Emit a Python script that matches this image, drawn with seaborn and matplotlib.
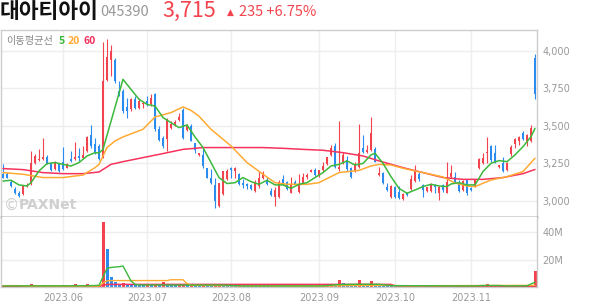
import numpy as np
import matplotlib
matplotlib.use("Agg")
import matplotlib.pyplot as plt
import seaborn as sns

# ---------------- data ----------------
opens = [3178,3182,3129,3082,3051,3044,3100,3110,3250,3273,
         3278,3293,3249,3211,3249,3260,3222,3282,3278,3300,
         3289,3333,3438,3378,3367,3290,3805,3940,3938,3733,
         3733,3627,3611,3678,3622,3644,3667,3644,3711,3478,
         3422,3411,3489,3511,3540,3604,3471,3500,3389,3307,
         3307,3218,3151,3107,2967,3049,3144,3218,3200,3182,
         3122,3116,3107,3067,3100,3156,3138,3067,3029,3029,
         3147,3129,3056,3129,3062,3122,3158,3196,3207,3167,
         3207,3247,3307,3367,3210,3251,3273,3222,3200,3224,
         3351,3329,3340,3344,3173,3184,3091,3024,3091,3062,
         3011,3056,3078,3136,3180,3107,3069,3069,3107,3051,
         3107,3056,3158,3162,3129,3073,3140,3084,3096,3218,
         3251,3318,3367,3318,3224,3256,3207,3311,3378,3400,
         3456,3400,3400,3951]
highs = [3249,3190,3138,3093,3067,3104,3118,3335,3311,3344,
         3422,3307,3262,3267,3256,3360,3256,3333,3393,3356,
         3367,3433,3504,3422,3378,4060,4080,4040,3955,3800,
         3744,3689,3689,3700,3689,3667,3700,3711,3722,3500,
         3433,3550,3530,3540,3589,3622,3511,3511,3389,3320,
         3356,3222,3211,3156,3122,3200,3211,3229,3229,3189,
         3144,3122,3111,3138,3200,3200,3162,3084,3096,3140,
         3173,3133,3162,3138,3180,3184,3189,3211,3218,3207,
         3262,3296,3373,3389,3536,3327,3300,3229,3260,3516,
         3440,3370,3558,3360,3224,3190,3118,3104,3098,3100,
         3056,3062,3173,3240,3196,3113,3096,3118,3113,3100,
         3113,3262,3240,3196,3138,3140,3142,3096,3144,3284,
         3318,3429,3373,3373,3240,3290,3260,3370,3422,3433,
         3467,3444,3507,3982]
lows = [3151,3150,3093,3044,3029,3042,3090,3105,3244,3267,
        3271,3244,3200,3204,3196,3204,3218,3262,3273,3267,
        3284,3329,3356,3316,3271,3285,3800,3830,3789,3700,
        3589,3551,3600,3611,3611,3622,3633,3633,3467,3400,
        3350,3333,3478,3500,3530,3411,3467,3400,3322,3300,
        3222,3156,3116,2951,2962,3040,3138,3156,3156,3104,
        3089,3078,3076,3062,3089,3144,3104,3033,2967,3020,
        3107,3073,3051,3111,3051,3118,3149,3190,3167,3160,
        3196,3240,3300,3222,3200,3247,3200,3150,3190,3218,
        3320,3322,3336,3258,3167,3116,3066,3018,3020,3013,
        3007,3033,3073,3129,3136,3024,3060,3062,3056,3007,
        3060,3051,3151,3120,3062,3064,3040,3069,3091,3211,
        3247,3251,3262,3256,3218,3196,3200,3300,3353,3373,
        3404,3367,3396,3682]
closes = [3156,3156,3098,3053,3036,3100,3109,3255,3300,3282,
          3293,3249,3204,3260,3200,3211,3244,3267,3293,3284,
          3307,3427,3367,3322,3278,3800,3960,3998,3800,3711,
          3600,3600,3678,3622,3667,3656,3644,3689,3478,3404,
          3367,3538,3511,3527,3560,3418,3500,3400,3338,3322,
          3233,3156,3122,3000,3122,3200,3200,3207,3218,3111,
          3104,3098,3078,3122,3156,3189,3111,3040,3073,3129,
          3118,3078,3113,3116,3107,3162,3173,3207,3173,3204,
          3236,3291,3356,3229,3227,3307,3211,3160,3242,3318,
          3329,3340,3456,3262,3189,3122,3073,3100,3024,3018,
          3047,3040,3144,3202,3144,3073,3091,3107,3091,3091,
          3073,3129,3189,3129,3069,3136,3056,3073,3140,3278,
          3284,3329,3273,3262,3240,3202,3251,3358,3411,3427,
          3411,3440,3484,3715]
volumes_m = [0.6,0.5,0.7,0.6,0.5,0.6,0.5,1.9,0.8,0.7,
             1.4,0.6,0.5,0.5,0.4,0.6,0.4,0.5,1.9,0.8,
             0.7,2.0,1.8,0.9,0.7,47.3,27.9,7.4,3.7,2.0,
             3.0,1.8,1.7,1.6,1.5,1.4,1.7,1.5,1.8,1.6,
             3.7,1.7,1.5,1.4,1.6,1.8,1.4,1.5,1.3,1.2,
             1.6,1.5,1.4,1.7,1.9,1.3,0.9,0.8,0.7,0.8,
             0.7,0.6,0.7,0.6,0.8,0.7,0.6,0.7,0.8,0.7,
             0.6,0.5,0.6,0.5,0.6,0.7,0.6,0.5,0.6,0.5,
             0.7,0.8,1.2,1.0,4.9,3.0,1.5,1.2,1.0,4.9,
             2.5,1.5,4.2,2.0,1.2,1.0,0.9,0.8,0.7,0.6,
             0.5,0.6,0.7,0.6,0.5,0.6,0.5,0.4,0.5,0.6,
             0.5,1.2,0.6,0.5,0.6,0.5,0.4,0.5,0.6,1.0,
             0.8,1.9,1.0,0.7,0.6,0.5,0.6,0.7,0.6,1.1,
             0.7,0.6,0.8,11.6]

# price moving averages, read at sampled days (day index, value)
ma5_days = [0,2,4,6,7,9,11,13,15,17,19,21,23,24,25,30,32,34,36,38,40,42,44,46,48,50,
            52,54,56,58,60,62,64,66,68,70,72,74,76,78,80,82,84,86,88,90,92,93,95,97,
            99,101,103,105,107,109,111,112,114,116,118,120,122,124,126,128,130,132,133]
ma5_vals = [3133,3138,3107,3100,3122,3200,3249,3256,3244,3233,3256,3300,3322,3320,3344,3811,
            3744,3678,3644,3633,3556,3522,3489,3507,3427,3356,3256,3156,3116,3122,3156,3129,
            3111,3138,3107,3107,3084,3111,3122,3156,3189,3233,3244,3267,3240,3250,3307,3318,
            3251,3162,3084,3051,3073,3096,3111,3100,3096,3113,3122,3107,3107,3196,3251,3269,
            3262,3307,3362,3429,3484]
ma20_days = [0,5,10,15,20,23,24,26,28,30,35,38,42,45,47,49,52,57,61,65,68,71,76,79,84,89,
             92,94,97,100,105,110,113,116,118,122,126,130,133]
ma20_vals = [3189,3178,3156,3156,3173,3222,3244,3356,3400,3427,3478,3560,3589,3627,3604,3565,
             3478,3367,3256,3178,3122,3111,3111,3122,3189,3204,3233,3244,3240,3218,3189,3160,
             3120,3100,3096,3140,3162,3196,3285]
ma60_days = [0,5,10,15,20,24,27,30,35,40,45,50,60,65,70,75,80,85,90,94,100,105,110,115,
             120,125,130,133]
ma60_vals = [3216,3209,3189,3182,3182,3193,3244,3262,3289,3316,3344,3356,3356,3356,3351,
             3344,3338,3322,3300,3267,3222,3189,3156,3144,3144,3156,3182,3210]

# volume moving averages (millions), read at sampled days
vma5_days = [0,21,24,25,26,27,29,30,31,32,33,34,55,60,80,84,89,94,97,118,120,124,126,131,133]
vma5_vals = [0.8,0.9,1.2,7.4,13.6,14.3,14.8,15.3,9.9,4.4,2.0,1.5,1.4,0.8,0.8,1.8,2.0,2.0,
             1.0,0.8,1.1,1.1,0.8,0.9,3.5]
vma20_days = [0,4,6,24,25,26,27,41,42,45,46,47,60,80,85,95,100,133]
vma20_vals = [1.0,1.0,0.6,0.6,3.0,4.5,4.7,4.7,5.3,5.3,2.5,1.2,0.9,0.7,1.0,1.2,0.9,1.2]
vma60_days = [0,24,25,26,97,98,133]
vma60_vals = [0.5,0.5,1.2,1.9,1.9,0.9,0.6]

month_days = [15, 36, 57, 79, 98, 117]
month_labels = ["2023.06", "2023.07", "2023.08", "2023.09", "2023.10", "2023.11"]
price_ticks = [3000, 3250, 3500, 3750, 4000]
price_tick_labels = ["3,000", "3,250", "3,500", "3,750", "4,000"]
vol_ticks = [20, 40]
vol_tick_labels = ["20M", "40M"]

# ---------------- style ----------------
sns.set_style("white")
plt.rcParams["font.family"] = ["Noto Sans CJK KR", "DejaVu Sans"]

RED = "#f2444e"
BLUE = "#2b8cf0"
GREEN = "#3cb83c"
ORANGE = "#ffaa33"
PINK = "#f5335c"
GRID = "#eeeeee"
FRAME = "#cccccc"

W, H = 594, 304
fig = plt.figure(figsize=(W / 100, H / 100), dpi=100)

def fx(px):
    return px / W

def fy(py):
    return 1 - py / H

ax = fig.add_axes([fx(1), fy(217), fx(536), 187 / H])
axv = fig.add_axes([fx(1), fy(287), fx(536), 70 / H])

x = np.arange(len(closes))
o = np.array(opens, float)
c = np.array(closes, float)
hi = np.array(highs, float)
lo = np.array(lows, float)
up = c >= o
cols = np.where(up, RED, BLUE)
bottoms = np.minimum(o, c)
heights = np.maximum(np.abs(c - o), 7)

for a in (ax, axv):
    a.set_axisbelow(True)
    a.grid(True, color=GRID, lw=1.0)

ax.vlines(x, lo, hi, colors=cols, lw=0.8, zorder=2)
ax.bar(x, heights, bottom=bottoms, width=0.72, color=cols, lw=0, zorder=3)

sns.lineplot(x=ma60_days, y=ma60_vals, ax=ax, color=PINK, lw=1.1, zorder=4)
sns.lineplot(x=ma20_days, y=ma20_vals, ax=ax, color=ORANGE, lw=1.1, zorder=4)
sns.lineplot(x=ma5_days, y=ma5_vals, ax=ax, color=GREEN, lw=1.1, zorder=5)

ax.set_xlim(-0.5, len(closes) - 0.5)
ax.set_ylim(2893, 4140)
ax.set_xticks(month_days)
ax.set_yticks(price_ticks)
ax.set_yticklabels(price_tick_labels)
ax.yaxis.tick_right()
ax.tick_params(axis="x", length=0, labelbottom=False)
ax.tick_params(axis="y", length=0, pad=4, labelcolor="#999999", labelsize=7)
for lab in ax.get_yticklabels():
    lab.set_family(["DejaVu Sans"])
ax.set_xlabel("")
ax.set_ylabel("")
for s in ("top", "left", "right"):
    ax.spines[s].set_color(FRAME)
    ax.spines[s].set_linewidth(1)
ax.spines["bottom"].set_color("#333333")
ax.spines["bottom"].set_linewidth(1)

# volume
vol = np.array(volumes_m, float)
vcols = [RED] + [RED if vol[i] >= vol[i - 1] else BLUE for i in range(1, len(vol))]
axv.bar(x, vol, width=0.75, color=vcols, lw=0, zorder=2)
sns.lineplot(x=vma60_days, y=vma60_vals, ax=axv, color=PINK, lw=1.1, zorder=4)
sns.lineplot(x=vma20_days, y=vma20_vals, ax=axv, color=ORANGE, lw=1.0, zorder=4)
sns.lineplot(x=vma5_days, y=vma5_vals, ax=axv, color=GREEN, lw=1.0, zorder=5)
axv.set_xlim(-0.5, len(closes) - 0.5)
axv.set_ylim(0, 51.1)
axv.set_xticks(month_days)
axv.set_xticklabels(month_labels)
axv.set_yticks(vol_ticks)
axv.set_yticklabels(vol_tick_labels)
axv.yaxis.tick_right()
axv.tick_params(axis="x", length=0, pad=4, labelcolor="#999999", labelsize=7)
axv.tick_params(axis="y", length=0, pad=4, labelcolor="#999999", labelsize=7)
for lab in axv.get_xticklabels() + axv.get_yticklabels():
    lab.set_family(["DejaVu Sans"])
axv.set_xlabel("")
axv.set_ylabel("")
axv.spines["top"].set_visible(False)
for s in ("left", "right", "bottom"):
    axv.spines[s].set_color(FRAME)
    axv.spines[s].set_linewidth(1)

# header texts
fig.text(fx(0), fy(11), "대아티아이", fontsize=15.5, fontweight="bold", color="#111111",
         ha="left", va="center")
fig.text(fx(100), fy(12), "045390", fontsize=10.5, color="#999999", ha="left", va="center")
fig.text(fx(162), fy(11), "3,715", fontsize=15.5, color=RED, ha="left", va="center")
fig.text(fx(227), fy(12), "▲", fontsize=6.5, color=RED, ha="left", va="center",
         family=["DejaVu Sans"])
fig.text(fx(239), fy(12), "235 +6.75%", fontsize=10.5, color=RED, ha="left", va="center")

# MA legend
fig.text(fx(6), fy(41), "이동평균선", fontsize=7.3, color="#888888", ha="left", va="center")
fig.text(fx(59), fy(41), "5", fontsize=7.5, color=GREEN, fontweight="bold", ha="left", va="center")
fig.text(fx(68), fy(41), "20", fontsize=7.5, color=ORANGE, fontweight="bold", ha="left", va="center")
fig.text(fx(83), fy(41), "60", fontsize=7.5, color="#f0305a", fontweight="bold", ha="left", va="center")

# watermark
fig.text(fx(4), fy(205), "©", fontsize=11, color="#cfcfcf", ha="left", va="center",
         family=["DejaVu Sans"])
fig.text(fx(19), fy(205), "PAXNet", fontsize=10, color="#cfcfcf", fontweight="bold",
         ha="left", va="center", family=["DejaVu Sans"])

fig.savefig("out.png", dpi=100)
